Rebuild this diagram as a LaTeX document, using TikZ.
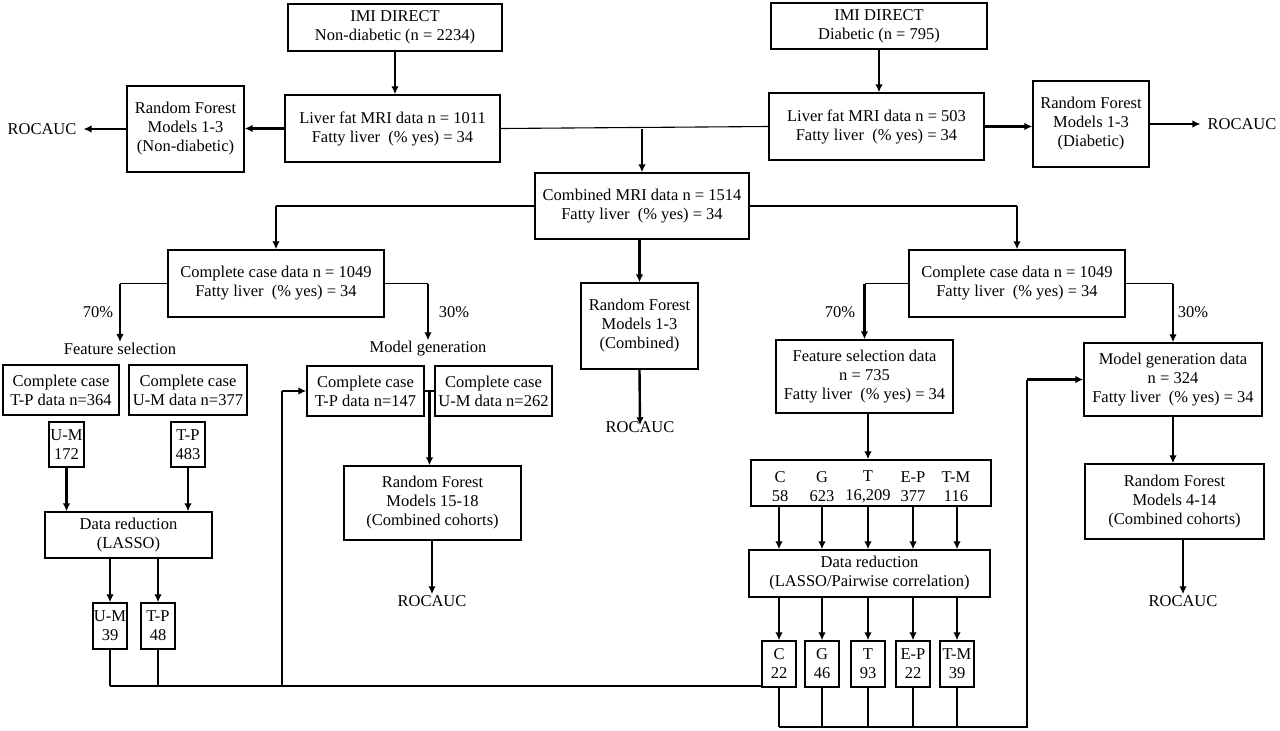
\documentclass[tikz,border=0pt]{standalone}
\usepackage{fontspec}
\setmainfont{Liberation Serif}
\usetikzlibrary{arrows.meta}
\begin{document}
\begin{tikzpicture}[x=1pt,y=-1pt,
  every node/.style={font=\fontsize{16.5}{19}\selectfont},
  box/.style={draw, line width=1.3pt, align=center, inner sep=1pt},
  txt/.style={inner sep=1pt, align=center},
  arr/.style={line width=2.4pt, -{Latex[length=8pt,width=7.5pt]}},
  conn/.style={line width=1.1pt}
]
\useasboundingbox (0,0) rectangle (1280,731);
\fill[white] (0,0) rectangle (1280,731);

% top
\node[box, minimum width=214pt, minimum height=47pt] (imi1) at (395,27.5) {IMI DIRECT\\Non-diabetic (n = 2234)};
\node[box, minimum width=216pt, minimum height=46pt] (imi2) at (879,26) {IMI DIRECT\\Diabetic (n = 795)};
\node[box, minimum width=215pt, minimum height=67pt] (liver1) at (392.5,128.5) {Liver fat MRI data n = 1011\\Fatty liver\ \ (\% yes) = 34};
\node[box, minimum width=215pt, minimum height=67pt] (liver2) at (876.5,126.5) {Liver fat MRI data n = 503\\Fatty liver\ \ (\% yes) = 34};
\node[box, minimum width=117pt, minimum height=86pt] (rf1) at (185.5,129) {Random Forest\\Models 1-3\\(Non-diabetic)};
\node[box, minimum width=116pt, minimum height=86pt] (rf2) at (1091,124) {Random Forest\\Models 1-3\\(Diabetic)};
\node[txt] (roc1) at (42,129) {ROCAUC};
\node[txt] (roc2) at (1242,124) {ROCAUC};

\node[box, minimum width=214pt, minimum height=66pt] (comb) at (642,206) {Combined MRI data n = 1514\\Fatty liver\ \ (\% yes) = 34};
\node[box, minimum width=117pt, minimum height=86pt] (rf3) at (639.5,326) {Random Forest\\Models 1-3\\(Combined)};
\node[txt] (roc3) at (640,427) {ROCAUC};

% left branch
\node[box, minimum width=216pt, minimum height=67pt] (cc1) at (276,283.5) {Complete case data n = 1049\\Fatty liver\ \ (\% yes) = 34};
\node[txt] (p70a) at (98,312) {70\%};
\node[txt] (p30a) at (454,312) {30\%};
\node[txt] (fslab) at (120,349) {Feature selection};
\node[txt] (mglab) at (428,349) {Model generation};
\node[box, minimum width=116pt, minimum height=50pt] (cctp1) at (61,390) {Complete case\\T-P data n=364};
\node[box, minimum width=118pt, minimum height=50pt] (ccum1) at (188,390) {Complete case\\U-M data n=377};
\node[box, minimum width=35pt, minimum height=45pt] (um172) at (66.5,444.5) {U-M\\172};
\node[box, minimum width=34pt, minimum height=45pt] (tp483) at (188,444.5) {T-P\\483};
\node[box, minimum width=167pt, minimum height=46pt] (dr1) at (128.5,535) {Data reduction\\(LASSO)};
\node[box, minimum width=34pt, minimum height=46pt] (um39) at (110,626) {U-M\\39};
\node[box, minimum width=34pt, minimum height=46pt] (tp48) at (158,626) {T-P\\48};
\node[box, minimum width=117pt, minimum height=50pt] (cctp2) at (365.5,391) {Complete case\\T-P data n=147};
\node[box, minimum width=117pt, minimum height=50pt] (ccum2) at (493.5,391) {Complete case\\U-M data n=262};
\node[box, minimum width=177pt, minimum height=74pt] (rf15) at (432.5,503) {Random Forest\\Models 15-18\\(Combined cohorts)};
\node[txt] (roc15) at (432,601) {ROCAUC};
\coordinate (mgj) at (429.5,391);

% right branch
\node[box, minimum width=216pt, minimum height=67pt] (cc2) at (1017,283.5) {Complete case data n = 1049\\Fatty liver\ \ (\% yes) = 34};
\node[txt] (p70b) at (840,312) {70\%};
\node[txt] (p30b) at (1193,312) {30\%};
\node[box, minimum width=177pt, minimum height=73pt] (fsd) at (864.5,376.5) {Feature selection data\\n = 735\\Fatty liver\ \ (\% yes) = 34};
\node[box, minimum width=178pt, minimum height=73pt] (mgd) at (1173,379.5) {Model generation data\\n = 324\\Fatty liver\ \ (\% yes) = 34};
\node[box, minimum width=179pt, minimum height=75pt] (rf4) at (1174.5,501.5) {Random Forest\\Models 4-14\\(Combined cohorts)};
\node[txt] (roc4) at (1183,601) {ROCAUC};

\node[box, minimum width=240pt, minimum height=46pt] (feat) at (871,483) {};
\node[txt] (fc) at (780,487) {C\\58};
\node[txt] (fg) at (822,487) {G\\623};
\node[txt] (ft) at (868,487) {T\\16,209};
\node[txt] (fep) at (913,487) {E-P\\377};
\node[txt] (ftm) at (956,487) {T-M\\116};
\node[box, minimum width=241pt, minimum height=47pt] (dr2) at (869.5,573.5) {Data reduction\\(LASSO/Pairwise correlation)};
\node[box, minimum width=34pt, minimum height=46pt] (c22) at (779,664) {C\\22};
\node[box, minimum width=34pt, minimum height=46pt] (g46) at (822,664) {G\\46};
\node[box, minimum width=34pt, minimum height=46pt] (t93) at (868,664) {T\\93};
\node[box, minimum width=34pt, minimum height=46pt] (ep22) at (913,664) {E-P\\22};
\node[box, minimum width=34pt, minimum height=46pt] (tm39) at (957,664) {T-M\\39};

\coordinate (jl) at (282,686);
\coordinate (jr) at (1027,727);

% connectors top
\draw[arr] (imi1.south) -- (imi1.south |- liver1.north);
\draw[arr] (imi2.south) -- (imi2.south |- liver2.north);
\draw[arr] (liver1.west) -- (liver1.west -| rf1.east);
\draw[arr] (rf1.west) -- ([xshift=6pt]roc1.east);
\draw[arr] (liver2.east) -- (liver2.east -| rf2.west);
\draw[arr] (rf2.east) -- ([xshift=-6pt]roc2.west);
\draw[conn] (liver1.east) -- (liver2.west);
\draw[arr] (comb.north |- liver1.east) -- (comb.north);
\draw[arr] (comb.south -| rf3.north) -- (rf3.north);
\draw[arr] (rf3.south) -- ([yshift=-5pt]roc3.north);

% combined to complete case
\draw[conn] (comb.west) -- (comb.west -| cc1.north);
\draw[arr] (comb.west -| cc1.north) -- (cc1.north);
\draw[conn] (comb.east) -- (comb.east -| cc2.north);
\draw[arr] (comb.east -| cc2.north) -- (cc2.north);

% left split
\draw[conn] (cc1.west) -- (cc1.west -| fslab.north);
\draw[arr] (cc1.west -| fslab.north) -- (fslab.north);
\draw[conn] (cc1.east) -- (cc1.east -| mglab.north);
\draw[arr] (cc1.east -| mglab.north) -- (mglab.north);
\draw[arr] (um172.south) -- (um172.south |- dr1.north);
\draw[arr] (tp483.south) -- (tp483.south |- dr1.north);
\draw[arr] (dr1.south -| um39.north) -- (um39.north);
\draw[arr] (dr1.south -| tp48.north) -- (tp48.north);
\draw[conn] (cctp2.east) -- (ccum2.west);
\draw[arr] (mgj) -- (mgj |- rf15.north);
\draw[arr] (rf15.south -| roc15.north) -- (roc15.north);

% right split
\draw[conn] (cc2.west) -- (cc2.west -| fsd.north);
\draw[arr] (cc2.west -| fsd.north) -- (fsd.north);
\draw[conn] (cc2.east) -- (cc2.east -| mgd.north);
\draw[arr] (cc2.east -| mgd.north) -- (mgd.north);
\draw[arr] (fsd.south -| ft.north) -- (ft.north |- feat.north);
\draw[arr] (mgd.south) -- (mgd.south |- rf4.north);
\draw[arr] (rf4.south -| roc4.north) -- (roc4.north);
\foreach \b in {c22,g46,t93,ep22,tm39}{
  \draw[arr] (feat.south -| \b.north) -- (dr2.north -| \b.north);
  \draw[arr] (dr2.south -| \b.north) -- (\b.north);
  \draw[conn] (\b.south) -- (\b.south |- jr);
}

% feedback lines
\draw[conn] (um39.south) -- (um39.south |- jl);
\draw[conn] (tp48.south) -- (tp48.south |- jl);
\draw[conn] (um39.south |- jl) -- (jl -| c22.west);
\draw[conn] (jl) -- (jl |- cctp2.west);
\draw[arr] (jl |- cctp2.west) -- (cctp2.west);
\draw[conn] (c22.south |- jr) -- (jr) -- (jr |- mgd.west);
\draw[arr] (jr |- mgd.west) -- (mgd.west);
\end{tikzpicture}
\end{document}
